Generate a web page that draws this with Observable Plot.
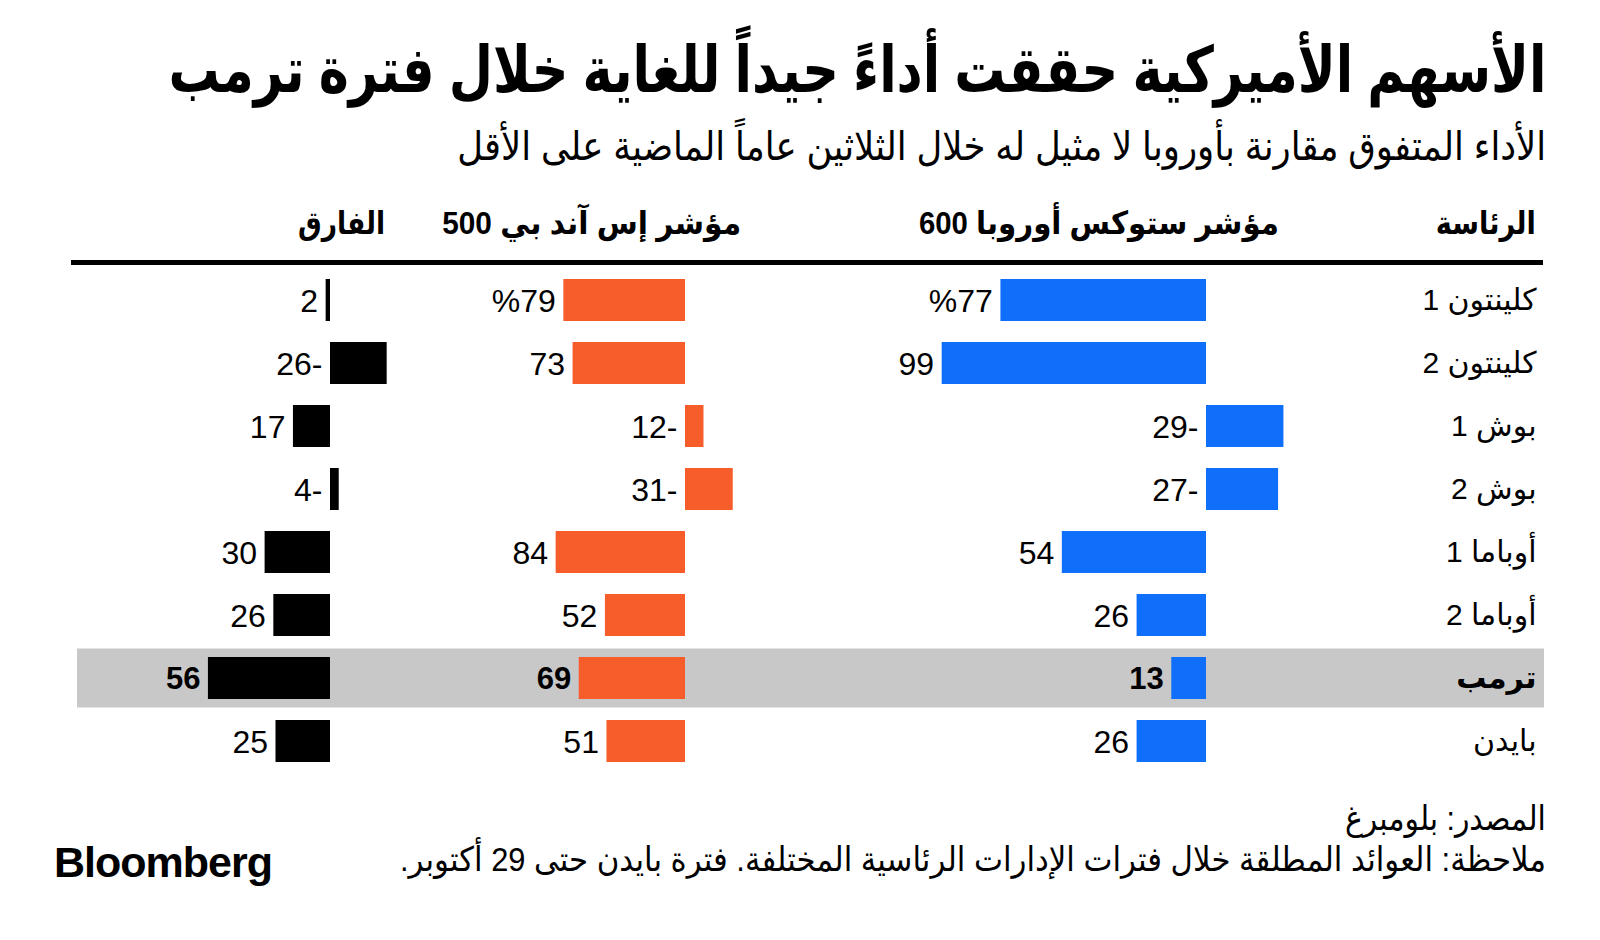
<!DOCTYPE html>
<html lang="ar">
<head>
<meta charset="utf-8">
<script src="https://cdn.jsdelivr.net/npm/d3@7"></script>
<script src="https://cdn.jsdelivr.net/npm/@observablehq/plot@0.6"></script>
<style>
  html, body { margin: 0; padding: 0; background: #fff; }
  #chart { position: relative; width: 1600px; height: 940px; overflow: hidden; background: #fff;
    font-family: "Liberation Sans", "DejaVu Sans", sans-serif; color: #000; }
  .t { position: absolute; white-space: nowrap; line-height: 1; direction: rtl; transform-origin: right center; }
  .layer { position: absolute; left: 0; top: 0; }
  .layer svg { overflow: visible; }
</style>
</head>
<body>
<div id="chart"></div>
<script>
// ---------- data ----------
const title = "الأسهم الأميركية حققت أداءً جيداً للغاية خلال فترة ترمب";
const subtitle = "الأداء المتفوق مقارنة بأوروبا لا مثيل له خلال الثلاثين عاماً الماضية على الأقل";
const headers = ["الرئاسة", "مؤشر ستوكس أوروبا 600", "مؤشر إس آند بي 500", "الفارق"];
const presidencies = ["كلينتون 1", "كلينتون 2", "بوش 1", "بوش 2", "أوباما 1", "أوباما 2", "ترمب", "بايدن"];
const stoxx600 = [77, 99, -29, -27, 54, 26, 13, 26];
const sp500 = [79, 73, -12, -31, 84, 52, 69, 51];
const spread = [2, -26, 17, -4, 30, 26, 56, 25];
const highlighted = "ترمب";
const sourceText = "المصدر: بلومبرغ";
const noteText = "ملاحظة: العوائد المطلقة خلال فترات الإدارات الرئاسية المختلفة. فترة بايدن حتى 29 أكتوبر.";
const logoText = "Bloomberg";

// ---------- layout ----------
const W = 1600, H = 940;
const rowTop = 267.5, rowBottom = 774;
const yScale = {domain: presidencies, range: [rowTop, rowBottom], paddingInner: 0.33, paddingOuter: 0.165, axis: null};
const chart = document.getElementById("chart");

function addText(txt, {right, top, size, weight = 400, fit, dir = "rtl", family}) {
  const el = document.createElement("div");
  el.className = "t";
  el.textContent = txt;
  el.style.right = (W - right) + "px";
  el.style.top = top + "px";
  el.style.fontSize = size + "px";
  el.style.fontWeight = weight;
  el.style.direction = dir;
  if (family) el.style.fontFamily = family;
  chart.appendChild(el);
  if (fit) {
    const w = el.getBoundingClientRect().width;
    el.style.transform = `scaleX(${fit / w})`;
  }
  return el;
}

function layer(svg) {
  const d = document.createElement("div");
  d.className = "layer";
  d.appendChild(svg);
  chart.appendChild(d);
}

// background: highlight band + row labels
const baseRows = presidencies.map(p => ({p}));
layer(Plot.plot({
  width: W, height: H,
  marginLeft: 77, marginRight: W - 1544, marginTop: 0, marginBottom: 0,
  x: {domain: [0, 1], axis: null},
  y: yScale,
  style: {background: "transparent", fontFamily: "'Liberation Sans', 'DejaVu Sans', sans-serif"},
  marks: [
    Plot.cell(baseRows.filter(d => d.p === highlighted), {y: "p", fill: "#c8c8c8", insetTop: -8.5, insetBottom: -8.5}),
    Plot.text(baseRows.filter(d => d.p !== highlighted), {y: "p", text: "p", frameAnchor: "right", textAnchor: "end", dx: -8, fontSize: 30, fill: "#000"}),
    Plot.text(baseRows.filter(d => d.p === highlighted), {y: "p", text: "p", frameAnchor: "right", textAnchor: "end", dx: -8, fontSize: 30, fontWeight: "bold", fill: "#000"})
  ]
}));

function fmt(v, i, pct) {
  return (pct && i === 0 ? "%" : "") + Math.abs(v) + (v < 0 ? "-" : "");
}

function column(values, color, zeroX, pxPerUnit, domain, pct) {
  const rows = presidencies.map((p, i) => ({p, v: values[i], i}));
  const left = zeroX - domain[1] * pxPerUnit;
  const right = zeroX - domain[0] * pxPerUnit;
  const textOpts = {x: d => Math.max(d.v, 0), y: "p", text: d => fmt(d.v, d.i, pct), textAnchor: "end", dx: -8, dy: 1, fontSize: 32, fill: "#000"};
  layer(Plot.plot({
    width: W, height: H,
    marginLeft: left, marginRight: W - right, marginTop: 0, marginBottom: 0,
    x: {domain, reverse: true, axis: null},
    y: yScale,
    style: {background: "transparent", fontFamily: "'Liberation Sans', 'DejaVu Sans', sans-serif"},
    marks: [
      Plot.barX(rows, {x: "v", y: "p", fill: color}),
      Plot.ruleX(rows, {x: () => 0, y: "p", stroke: "#111", strokeWidth: 1.6, insetTop: -5.5, insetBottom: -5.5}),
      Plot.text(rows.filter(d => d.p !== highlighted), textOpts),
      Plot.text(rows.filter(d => d.p === highlighted), {...textOpts, fontWeight: "bold", fontSize: 31})
    ]
  }));
}

column(stoxx600, "#0f6ffb", 1206, 2.67, [-35, 105], true);
column(sp500, "#f65d2b", 685, 1.54, [-35, 95], true);
column(spread, "#000000", 330, 2.18, [-30, 60], false);

// header rule
const rule = document.createElement("div");
Object.assign(rule.style, {position: "absolute", left: "71px", top: "260px", width: "1472px", height: "4.5px", background: "#000"});
chart.appendChild(rule);

// texts
addText(title, {right: 1546, top: 38, size: 64, weight: 700, fit: 1378});
addText(subtitle, {right: 1546, top: 126, size: 40, fit: 1089});
const headerRights = [1536, 1279, 741, 385];
const headerWidths = [100, 360, 299, 87];
headers.forEach((h, i) => addText(h, {right: headerRights[i], top: 207, size: 32, weight: 700, fit: headerWidths[i]}));
addText(sourceText, {right: 1546, top: 801, size: 34, fit: 201});
addText(noteText, {right: 1546, top: 842, size: 34, fit: 1146});
addText(logoText, {right: 272, top: 841, size: 43, weight: 700, dir: "ltr", family: "'Liberation Sans', sans-serif"}).style.letterSpacing = "-1px";
</script>
</body>
</html>
